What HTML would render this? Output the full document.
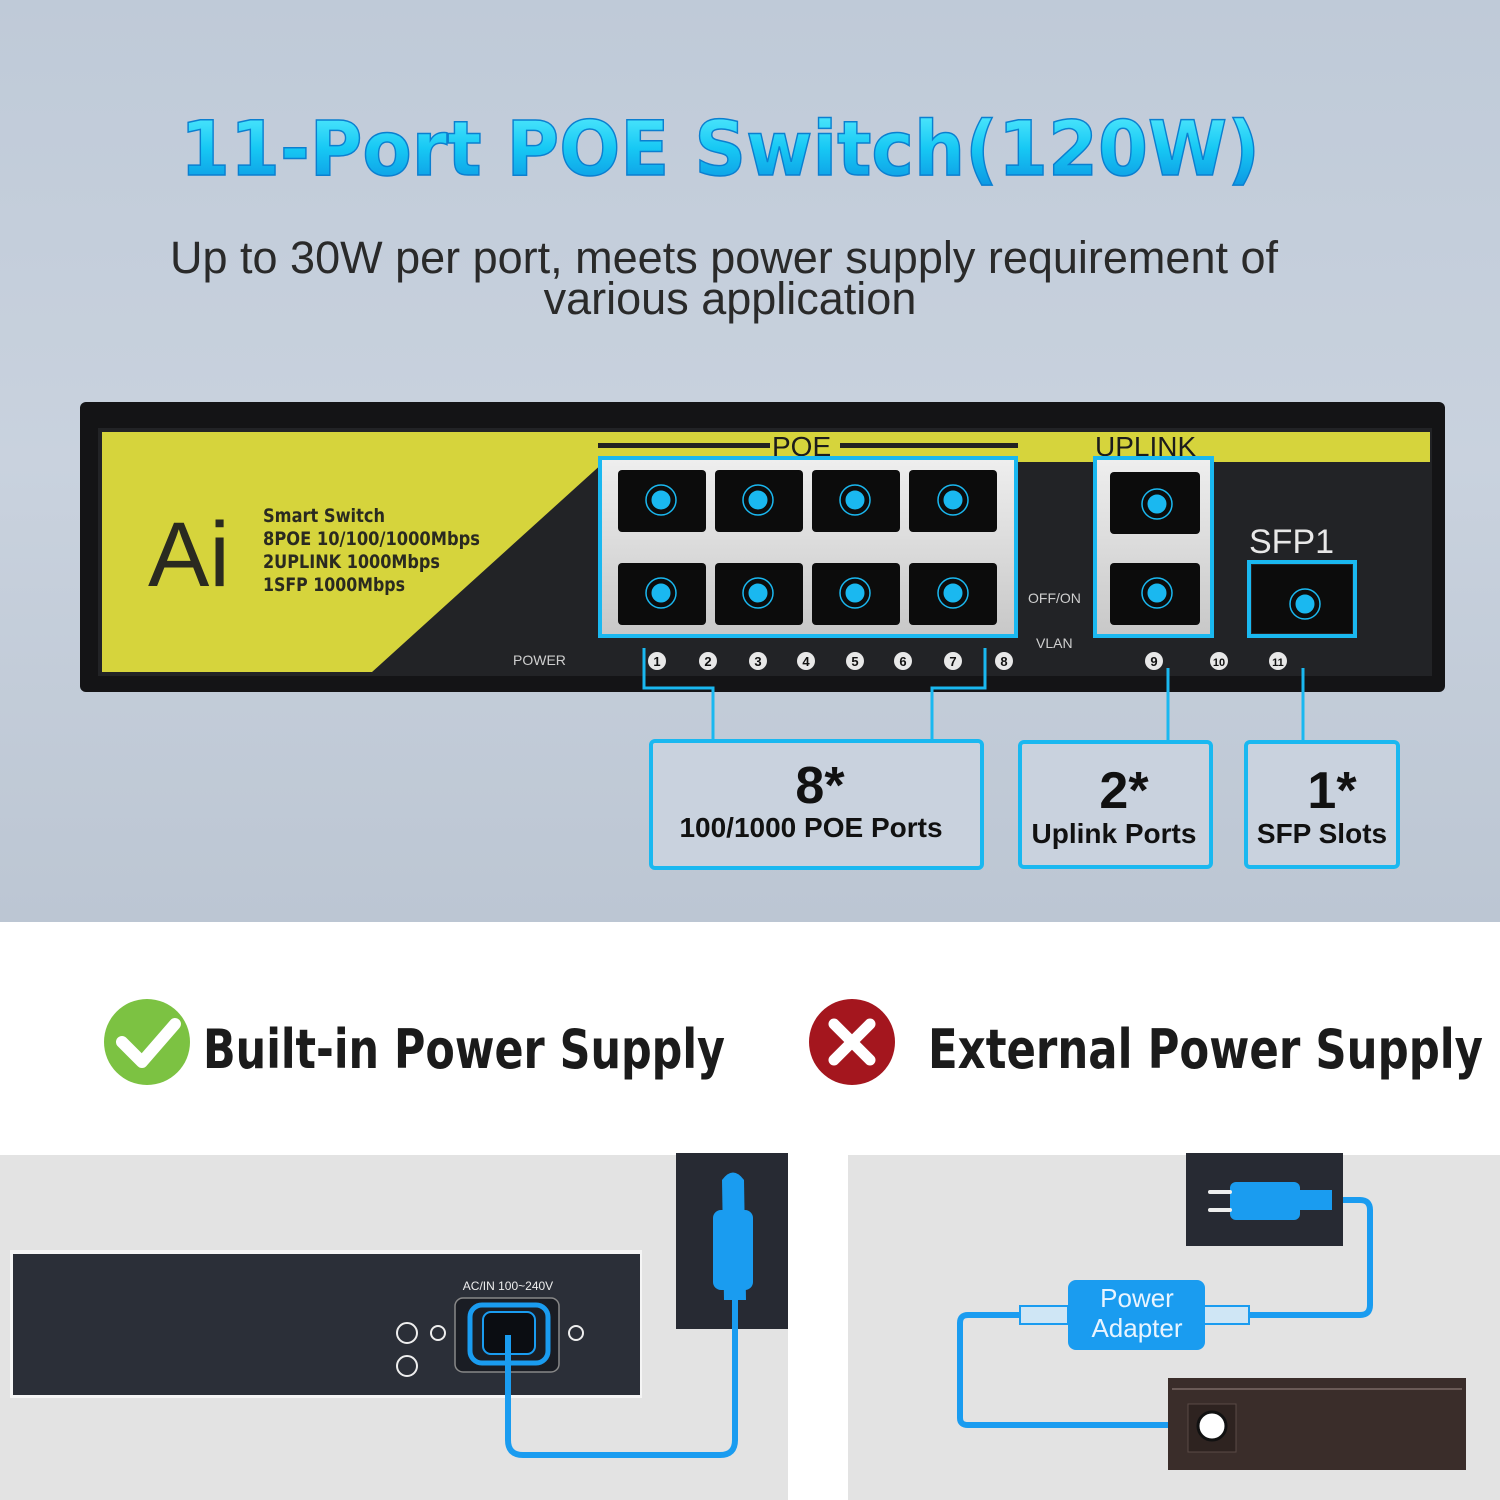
<!DOCTYPE html>
<html><head><meta charset="utf-8"><style>
html,body{margin:0;padding:0;width:1500px;height:1500px;overflow:hidden;background:#fff}
svg{display:block}
</style></head><body>
<svg width="1500" height="1500" viewBox="0 0 1500 1500" xmlns="http://www.w3.org/2000/svg">
<defs>
<linearGradient id="bg" x1="0" y1="0" x2="0" y2="1">
<stop offset="0" stop-color="#bfcad8"/><stop offset="0.5" stop-color="#c9d2de"/><stop offset="1" stop-color="#bcc6d3"/></linearGradient>
<linearGradient id="tt" x1="0" y1="0" x2="0" y2="1">
<stop offset="0" stop-color="#5ef0ff"/><stop offset="0.5" stop-color="#17c8f4"/><stop offset="1" stop-color="#0a8fe0"/></linearGradient>
<linearGradient id="port" x1="0" y1="0" x2="0" y2="1"><stop offset="0" stop-color="#eeeeee"/><stop offset="1" stop-color="#c8c8c8"/></linearGradient>
</defs>
<rect x="0" y="0" width="1500" height="922" fill="url(#bg)"/>
<rect x="0" y="922" width="1500" height="578" fill="#fff"/>
<text x="720" y="175" text-anchor="middle" font-family="DejaVu Sans, Liberation Sans, sans-serif" font-weight="bold" font-size="76" fill="url(#tt)" stroke="#0b7fd0" stroke-width="1.5" textLength="1080" lengthAdjust="spacingAndGlyphs">11-Port POE Switch(120W)</text>
<text x="724" y="273" text-anchor="middle" font-family="Liberation Sans, sans-serif" font-size="45" fill="#2a2a2a" textLength="1108" lengthAdjust="spacingAndGlyphs">Up to 30W per port, meets power supply requirement of</text>
<text x="730" y="314" text-anchor="middle" font-family="Liberation Sans, sans-serif" font-size="45" fill="#2a2a2a">various application</text>
<!-- switch -->
<rect x="80" y="402" width="1365" height="290" rx="6" fill="#141416"/>
<rect x="98" y="428" width="1334" height="248" fill="#222326"/>
<polygon points="102,432 1430,432 1430,462 604,462 372,672 102,672" fill="#d6d43c"/>
<text x="148" y="586" font-family="Liberation Sans, sans-serif" font-size="92" fill="#2a2a20">Ai</text>
<g font-family="DejaVu Sans Condensed, Liberation Sans Narrow, sans-serif" font-weight="bold" font-size="19" fill="#2a2a20">
<text x="263" y="522" textLength="122" lengthAdjust="spacingAndGlyphs">Smart Switch</text><text x="263" y="545" textLength="217" lengthAdjust="spacingAndGlyphs">8POE 10/100/1000Mbps</text><text x="263" y="568" textLength="177" lengthAdjust="spacingAndGlyphs">2UPLINK 1000Mbps</text><text x="263" y="591" textLength="142" lengthAdjust="spacingAndGlyphs">1SFP 1000Mbps</text></g>
<text x="772" y="456" font-family="Liberation Sans, sans-serif" font-size="28" fill="#1c1c1c">POE</text>
<rect x="598" y="443" width="172" height="5" fill="#222"/><rect x="840" y="443" width="178" height="5" fill="#222"/>
<text x="1095" y="456" font-family="Liberation Sans, sans-serif" font-size="28" fill="#1c1c1c">UPLINK</text>
<text x="1249" y="553" font-family="Liberation Sans, sans-serif" font-size="34" fill="#e8e8e8">SFP1</text>
<rect x="602" y="460" width="412" height="174" fill="url(#port)"/>
<rect x="1097" y="460" width="113" height="174" fill="url(#port)"/>
<g fill="#0c0c0c">
<rect x="618" y="470" width="88" height="62" rx="4"/><rect x="715" y="470" width="88" height="62" rx="4"/><rect x="812" y="470" width="88" height="62" rx="4"/><rect x="909" y="470" width="88" height="62" rx="4"/>
<rect x="618" y="563" width="88" height="62" rx="4"/><rect x="715" y="563" width="88" height="62" rx="4"/><rect x="812" y="563" width="88" height="62" rx="4"/><rect x="909" y="563" width="88" height="62" rx="4"/>
<rect x="1110" y="472" width="90" height="62" rx="4"/><rect x="1110" y="563" width="90" height="62" rx="4"/>
<rect x="1252" y="565" width="100" height="68"/></g>
<g fill="#1ab8f0" stroke="#1ab8f0" stroke-width="1">
<circle cx="661" cy="500" r="9"/><circle cx="758" cy="500" r="9"/><circle cx="855" cy="500" r="9"/><circle cx="953" cy="500" r="9"/>
<circle cx="661" cy="593" r="9"/><circle cx="758" cy="593" r="9"/><circle cx="855" cy="593" r="9"/><circle cx="953" cy="593" r="9"/>
<circle cx="1157" cy="504" r="9"/><circle cx="1157" cy="593" r="9"/><circle cx="1305" cy="604" r="9"/></g>
<g fill="none" stroke="#1ab8f0" stroke-width="1.5">
<circle cx="661" cy="500" r="15"/><circle cx="758" cy="500" r="15"/><circle cx="855" cy="500" r="15"/><circle cx="953" cy="500" r="15"/>
<circle cx="661" cy="593" r="15"/><circle cx="758" cy="593" r="15"/><circle cx="855" cy="593" r="15"/><circle cx="953" cy="593" r="15"/>
<circle cx="1157" cy="504" r="15"/><circle cx="1157" cy="593" r="15"/><circle cx="1305" cy="604" r="15"/></g>
<g fill="none" stroke="#1ab8f0" stroke-width="4">
<rect x="600" y="458" width="416" height="178"/><rect x="1095" y="458" width="117" height="178"/><rect x="1249" y="562" width="106" height="74"/></g>
<g font-family="Liberation Sans, sans-serif" font-size="14" fill="#cfcfcf">
<text x="513" y="665">POWER</text><text x="1028" y="603">OFF/ON</text><text x="1036" y="648">VLAN</text></g>
<g fill="#e8e8e8">
<circle cx="657" cy="661" r="9"/><circle cx="708" cy="661" r="9"/><circle cx="758" cy="661" r="9"/><circle cx="806" cy="661" r="9"/><circle cx="855" cy="661" r="9"/><circle cx="903" cy="661" r="9"/><circle cx="953" cy="661" r="9"/><circle cx="1004" cy="661" r="9"/><circle cx="1154" cy="661" r="9"/><circle cx="1219" cy="661" r="9"/><circle cx="1278" cy="661" r="9"/></g>
<g fill="#111" font-family="Liberation Sans, sans-serif" font-weight="bold" font-size="13" text-anchor="middle">
<text x="657" y="666">1</text><text x="708" y="666">2</text><text x="758" y="666">3</text><text x="806" y="666">4</text><text x="855" y="666">5</text><text x="903" y="666">6</text><text x="953" y="666">7</text><text x="1004" y="666">8</text><text x="1154" y="666">9</text><text x="1219" y="666" font-size="11">10</text><text x="1278" y="666" font-size="11">11</text></g>
<g fill="none" stroke="#1ab8f0" stroke-width="3">
<polyline points="644,648 644,688 713,688 713,741"/><polyline points="985,648 985,688 932,688 932,741"/>
<line x1="1168" y1="668" x2="1168" y2="742"/><line x1="1303" y1="668" x2="1303" y2="742"/></g>
<g fill="#c9d2de" stroke="#1ab8f0" stroke-width="4">
<rect x="651" y="741" width="331" height="127" rx="4"/><rect x="1020" y="742" width="191" height="125" rx="4"/><rect x="1246" y="742" width="152" height="125" rx="4"/></g>
<g font-family="Liberation Sans, sans-serif" font-weight="bold" fill="#111" text-anchor="middle">
<text x="820" y="803" font-size="52">8*</text><text x="811" y="837" font-size="28">100/1000 POE Ports</text>
<text x="1124" y="808" font-size="52">2*</text><text x="1114" y="843" font-size="28">Uplink Ports</text>
<text x="1332" y="808" font-size="52">1*</text><text x="1322" y="843" font-size="28">SFP Slots</text></g>
<circle cx="147" cy="1042" r="43" fill="#7cc242"/>
<polyline points="122,1042 142,1062 175,1024" fill="none" stroke="#fff" stroke-width="12" stroke-linecap="round" stroke-linejoin="round"/>
<circle cx="852" cy="1042" r="43" fill="#a4161e"/>
<g stroke="#fff" stroke-width="11" stroke-linecap="round"><line x1="834" y1="1024" x2="870" y2="1060"/><line x1="870" y1="1024" x2="834" y2="1060"/></g>
<g font-family="DejaVu Sans Condensed, Liberation Sans Narrow, sans-serif" font-weight="bold" font-size="54" fill="#1b1b1b">
<text x="203" y="1068" textLength="522" lengthAdjust="spacingAndGlyphs">Built-in Power Supply</text>
<text x="928" y="1068" textLength="555" lengthAdjust="spacingAndGlyphs">External Power Supply</text></g>
<rect x="0" y="1155" width="788" height="345" fill="#e3e3e3"/>
<rect x="848" y="1155" width="652" height="345" fill="#e3e3e3"/>
<rect x="10" y="1250" width="632" height="148" fill="#f5f5f5"/>
<rect x="13" y="1254" width="627" height="141" fill="#2b2f38"/>
<rect x="676" y="1153" width="112" height="176" fill="#272a33"/>
<text x="508" y="1290" text-anchor="middle" font-family="Liberation Sans, sans-serif" font-size="12" fill="#eee">AC/IN 100~240V</text>
<rect x="455" y="1298" width="104" height="74" rx="8" fill="#1a1d24" stroke="#888" stroke-width="1.5"/>
<rect x="470" y="1305" width="78" height="58" rx="12" fill="none" stroke="#1a9cf0" stroke-width="5"/>
<rect x="483" y="1312" width="52" height="42" rx="8" fill="#0b0d12" stroke="#1a9cf0" stroke-width="2"/>
<g fill="none" stroke="#eee" stroke-width="2"><circle cx="407" cy="1333" r="10"/><circle cx="407" cy="1366" r="10"/><circle cx="438" cy="1333" r="7"/><circle cx="576" cy="1333" r="7"/></g>
<g fill="none" stroke="#1a9cf0" stroke-width="6">
<path d="M508,1335 L508,1440 Q508,1455 523,1455 L720,1455 Q735,1455 735,1440 L735,1300"/>
<path d="M1330,1200 L1360,1200 Q1370,1200 1370,1210 L1370,1305 Q1370,1315 1360,1315 L1240,1315"/>
<path d="M1035,1315 L968,1315 Q960,1315 960,1323 L960,1418 Q960,1425 968,1425 L1200,1425"/></g>
<path d="M722,1180 Q733,1165 744,1180 L746,1300 L724,1300 Z" fill="#1a9cf0"/>
<rect x="713" y="1210" width="40" height="80" rx="8" fill="#1a9cf0"/>
<rect x="1186" y="1153" width="157" height="93" fill="#272a33"/>
<rect x="1230" y="1182" width="70" height="38" rx="6" fill="#1a9cf0"/>
<rect x="1298" y="1190" width="34" height="20" fill="#1a9cf0"/>
<g stroke="#eee" stroke-width="4" stroke-linecap="round"><line x1="1210" y1="1192" x2="1230" y2="1192"/><line x1="1210" y1="1210" x2="1230" y2="1210"/></g>
<rect x="1020" y="1306" width="48" height="18" fill="#cfe6f5" stroke="#1a9cf0" stroke-width="2"/>
<rect x="1203" y="1306" width="46" height="18" fill="#cfe6f5" stroke="#1a9cf0" stroke-width="2"/>
<rect x="1068" y="1280" width="137" height="70" rx="8" fill="#1a9cf0"/>
<text x="1137" y="1307" text-anchor="middle" font-family="Liberation Sans, sans-serif" font-size="26" fill="#e8f4ff">Power</text>
<text x="1137" y="1337" text-anchor="middle" font-family="Liberation Sans, sans-serif" font-size="26" fill="#e8f4ff">Adapter</text>
<rect x="1168" y="1378" width="298" height="92" fill="#3a2d2a"/>
<line x1="1172" y1="1389" x2="1462" y2="1389" stroke="#6a5a56" stroke-width="2"/>
<rect x="1188" y="1404" width="48" height="48" fill="#2e2320" stroke="#5a4a46"/>
<circle cx="1212" cy="1426" r="14" fill="#fff" stroke="#111" stroke-width="3"/>
</svg>
</body></html>
